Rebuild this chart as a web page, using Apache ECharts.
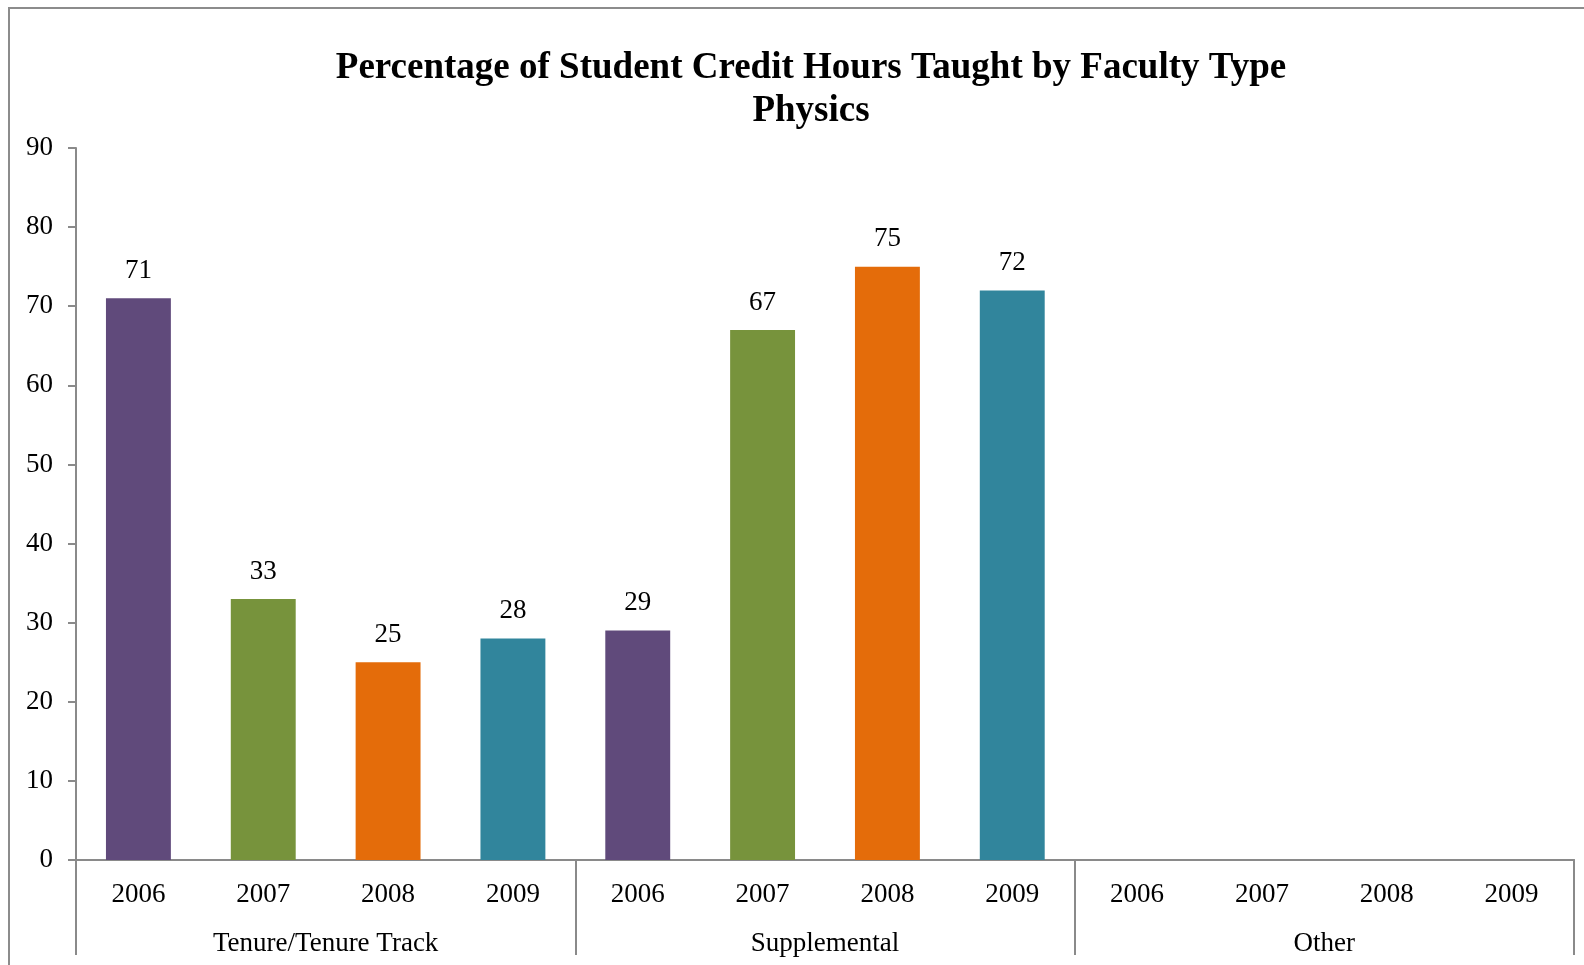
<!DOCTYPE html>
<html>
<head>
<meta charset="utf-8">
<style>
  html, body { margin: 0; padding: 0; background: #fff; }
  #chart { width: 1584px; height: 965px; }
</style>
<script src="https://cdn.jsdelivr.net/npm/echarts@6/dist/echarts.min.js"></script>
</head>
<body>
<div id="chart"></div>
<script>
var years = ['2006', '2007', '2008', '2009'];
var groups = ['Tenure/Tenure Track', 'Supplemental', 'Other'];
var tenureValues = [71, 33, 25, 28];
var supplementalValues = [29, 67, 75, 72];
var otherValues = [null, null, null, null];
var yearColors = ['#604A7B', '#77933C', '#E46C0A', '#31859C'];

var font = 'Liberation Serif, Times New Roman, serif';

// flatten groups into one category axis (year within group)
var categories = [];
var barData = [];
[tenureValues, supplementalValues, otherValues].forEach(function (vals) {
    vals.forEach(function (v, i) {
        categories.push(years[i]);
        barData.push({
            value: v,
            itemStyle: { color: yearColors[i] }
        });
    });
});

var myChart = echarts.init(document.getElementById('chart'), null, { renderer: 'canvas' });

var option = {
    animation: false,
    backgroundColor: '#fff',
    graphic: [{
        type: 'rect',
        shape: { x: 9, y: 8, width: 1640, height: 1020 },
        style: { fill: 'none', stroke: '#8c8c8c', lineWidth: 2 },
        silent: true
    }],
    title: {
        text: 'Percentage of Student Credit Hours Taught by Faculty Type\nPhysics',
        left: 806,
        top: 42,
        textAlign: 'center',
        textStyle: {
            fontFamily: font,
            fontWeight: 'bold',
            fontSize: 37,
            lineHeight: 43,
            color: '#000'
        }
    },
    grid: {
        left: 76,
        right: 10,
        top: 148,
        bottom: 105,
        containLabel: false
    },
    xAxis: [{
        type: 'category',
        data: categories,
        position: 'bottom',
        axisLine: { show: true, lineStyle: { color: '#8a8a8a', width: 2 } },
        axisTick: { show: false },
        axisLabel: {
            interval: 0,
            margin: 21,
            fontFamily: font,
            fontSize: 27,
            color: '#000'
        }
    }, {
        type: 'category',
        data: groups,
        position: 'bottom',
        axisLine: { show: true, lineStyle: { color: '#8a8a8a', width: 2 } },
        axisTick: {
            show: true,
            interval: 0,
            length: 95,
            lineStyle: { color: '#8a8a8a', width: 2 }
        },
        axisLabel: {
            interval: 0,
            margin: 70,
            fontFamily: font,
            fontSize: 27,
            color: '#000'
        }
    }],
    yAxis: {
        type: 'value',
        min: 0,
        max: 90,
        interval: 10,
        splitLine: { show: false },
        axisLine: { show: true, lineStyle: { color: '#8a8a8a', width: 2 } },
        axisTick: { show: true, length: 8, lineStyle: { color: '#8a8a8a', width: 2 } },
        axisLabel: {
            margin: 23,
            fontFamily: font,
            fontSize: 27,
            color: '#000'
        }
    },
    series: [{
        type: 'bar',
        xAxisIndex: 0,
        data: barData,
        barWidth: '52%',
        label: {
            show: true,
            position: 'top',
            distance: 14,
            fontFamily: font,
            fontSize: 27,
            color: '#000'
        }
    }]
};

myChart.setOption(option);
</script>
</body>
</html>
